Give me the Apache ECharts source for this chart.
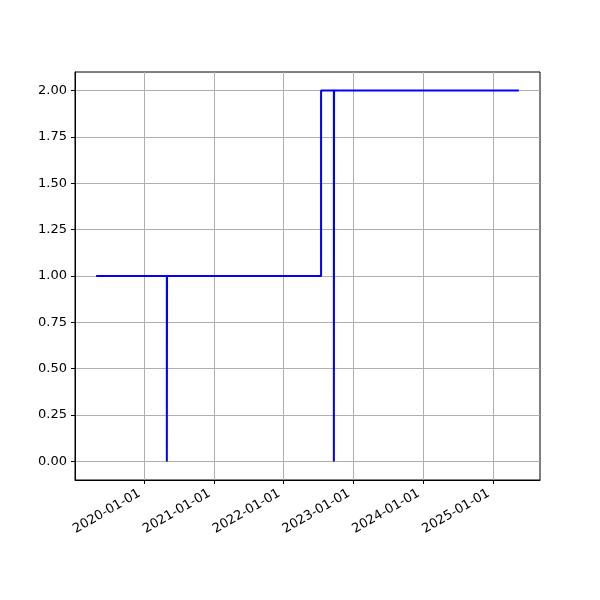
<!DOCTYPE html>
<html>
<head>
<meta charset="utf-8">
<script src="https://cdn.jsdelivr.net/npm/echarts@6/dist/echarts.min.js"></script>
<style>html,body{margin:0;padding:0;background:#fff}#c{width:600px;height:600px}</style>
</head>
<body>
<div id="c"></div>
<script>
// step series: date -> value (drawn as step 'end')
const dates = ['2019-04-26','2020-04-30','2020-05-01','2022-07-16','2022-09-21','2022-09-22','2025-05-16'];
const values = [1, 0, 1, 2, 0, 2, 2];
const xTickLabels = ['2020-01-01','2021-01-01','2022-01-01','2023-01-01','2024-01-01','2025-01-01'];
const yTicks = [0, 0.25, 0.5, 0.75, 1.0, 1.25, 1.5, 1.75, 2.0];

const t = dates.map(d => Date.parse(d + 'T00:00:00Z'));
const tMin = Math.min(...t), tMax = Math.max(...t);
const pad = (tMax - tMin) * 0.05;
const vMin = Math.min(...values), vMax = Math.max(...values);
const vpad = (vMax - vMin) * 0.05;
const xTicks = xTickLabels.map(d => Date.parse(d + 'T00:00:00Z'));

const chart = echarts.init(document.getElementById('c'), null, {renderer: 'canvas'});
const font = 'DejaVu Sans';
chart.setOption({
  animation: false,
  grid: {left: 75, right: 60, top: 72, bottom: 120, show: true, borderColor: '#000', borderWidth: 1, backgroundColor: 'transparent'},
  xAxis: {
    type: 'value',
    min: tMin - pad,
    max: tMax + pad,
    axisLine: {show: true, onZero: false, lineStyle: {color: '#000', width: 1}},
    axisTick: {show: true, customValues: xTicks, length: 4, lineStyle: {color: '#000', width: 1}},
    axisLabel: {
      customValues: xTicks,
      rotate: 30, margin: 10, padding: [0, 5, 0, 0], color: '#000', fontFamily: font, fontSize: 13,
      formatter: v => xTickLabels[xTicks.indexOf(v)] || ''
    },
    splitLine: {show: true, lineStyle: {color: '#b0b0b0', width: 1}}
  },
  yAxis: {
    type: 'value',
    min: vMin - vpad,
    max: vMax + vpad,
    axisLine: {show: true, onZero: false, lineStyle: {color: '#000', width: 1}},
    axisTick: {show: true, customValues: yTicks, length: 4, lineStyle: {color: '#000', width: 1}},
    axisLabel: {customValues: yTicks, margin: 8, color: '#000', fontFamily: font, fontSize: 13, formatter: v => v.toFixed(2)},
    splitLine: {show: true, lineStyle: {color: '#b0b0b0', width: 1}}
  },
  series: [{
    type: 'line',
    step: 'end',
    data: t.map((x, i) => [x, values[i]]),
    showSymbol: false,
    lineStyle: {color: '#0000ff', width: 2},
    itemStyle: {color: '#0000ff'}
  }]
});
</script>
</body>
</html>
